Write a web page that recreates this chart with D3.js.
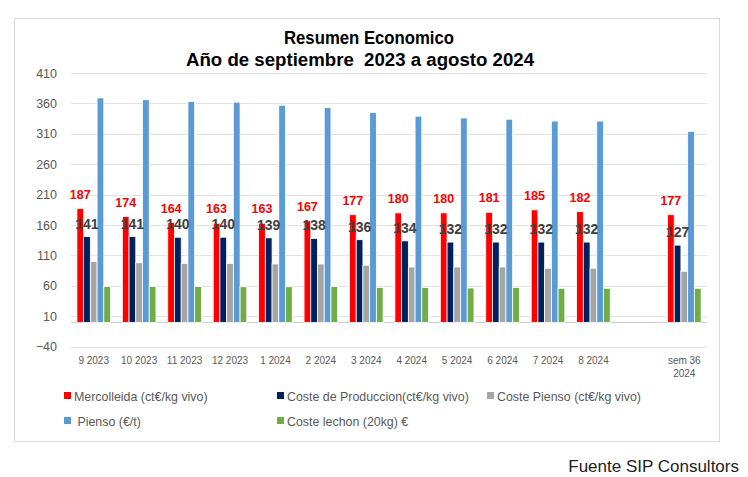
<!DOCTYPE html>
<html>
<head>
<meta charset="utf-8">
<script src="https://d3js.org/d3.v7.min.js"></script>
<style>
  body { margin: 0; background: #fff; }
  text { font-family: "Liberation Sans", Arial, sans-serif; }
</style>
</head>
<body>
<script>

// Datos del grafico
var meses = ["9 2023", "10 2023", "11 2023", "12 2023", "1 2024", "2 2024", "3 2024",
             "4 2024", "5 2024", "6 2024", "7 2024", "8 2024", "", "sem 36 2024"];
var mercolleida = [187, 174, 164, 163, 163, 167, 177, 180, 180, 181, 185, 182, null, 177];
var costeProduccion = [141, 141, 140, 140, 139, 138, 136, 134, 132, 132, 132, 132, null, 127];
var costePienso = [100, 98, 97, 97, 96, 96, 94, 91, 91, 91, 89, 89, null, 84];
var pienso = [369, 366, 363, 362, 357, 353, 345, 339, 336, 334, 331, 331, null, 314];
var costeLechon = [59, 59, 59, 58.5, 58.5, 59, 57.5, 57.5, 56.5, 57.5, 56, 56, null, 56];
var yTicks = [-40, 10, 60, 110, 160, 210, 260, 310, 360, 410];

var series = [
  { nombre: "Mercolleida (ct€/kg vivo)", valores: mercolleida, color: "#ff0000" },
  { nombre: "Coste de Produccion(ct€/kg vivo)", valores: costeProduccion, color: "#002060" },
  { nombre: "Coste Pienso (ct€/kg vivo)", valores: costePienso, color: "#a5a5a5" },
  { nombre: " Pienso (€/t)", valores: pienso, color: "#5b9bd5" },
  { nombre: "Coste lechon (20kg) €", valores: costeLechon, color: "#70ad47" }
];

var svg = d3.select("body").append("svg").attr("width", 748).attr("height", 477);

// Marco del grafico
svg.append("rect").attr("x", 14.5).attr("y", 18.5).attr("width", 705).attr("height", 423)
   .attr("fill", "#fff").attr("stroke", "#d9d9d9").attr("stroke-width", 1);

// Escalas
var x = d3.scaleBand().domain(d3.range(meses.length)).range([71, 707])
          .paddingInner(0.26).paddingOuter(0.13);
var xs = d3.scaleBand().domain(d3.range(series.length)).range([0, x.bandwidth()]);
var y = d3.scaleLinear().domain([-40, 410]).range([346.7, 73]);

// Rejilla
svg.selectAll("line.grid").data(yTicks).enter().append("line")
   .attr("class", "grid")
   .attr("x1", 71).attr("x2", 707)
   .attr("y1", function (d) { return Math.round(y(d)) + 0.5; })
   .attr("y2", function (d) { return Math.round(y(d)) + 0.5; })
   .attr("stroke", "#e3e3e3").attr("stroke-width", 1);

svg.append("line").attr("x1", 71).attr("x2", 707)
   .attr("y1", Math.round(y(0)) + 0.5).attr("y2", Math.round(y(0)) + 0.5)
   .attr("stroke", "#d0d0d0").attr("stroke-width", 1);

// Eje Y
var ejeY = svg.append("g").attr("transform", "translate(57,0)")
   .call(d3.axisLeft(y).tickValues(yTicks).tickSize(0).tickPadding(0));
ejeY.select(".domain").remove();
ejeY.selectAll("text").attr("fill", "#595959").attr("font-size", 12.5)
    .attr("font-family", "Liberation Sans, Arial, sans-serif");

// Barras
var grupos = svg.selectAll("g.serie").data(series).enter().append("g")
   .attr("class", "serie").attr("fill", function (d) { return d.color; });

grupos.each(function (s, si) {
  d3.select(this).selectAll("rect")
    .data(s.valores.map(function (v, i) { return { v: v, i: i }; }).filter(function (d) { return d.v !== null; }))
    .enter().append("rect")
    .attr("x", function (d) { return x(d.i) + xs(si); })
    .attr("width", xs.bandwidth())
    .attr("y", function (d) { return y(d.v); })
    .attr("height", function (d) { return y(0) - y(d.v); })
    .attr("stroke", "#fff").attr("stroke-width", 0.8);
});

// Etiquetas Mercolleida
svg.selectAll("text.lbl-m")
   .data(mercolleida.map(function (v, i) { return { v: v, i: i }; }).filter(function (d) { return d.v !== null; }))
   .enter().append("text")
   .attr("class", "lbl-m")
   .attr("x", function (d) { return x(d.i) + xs(0) + xs.bandwidth() / 2; })
   .attr("y", function (d) { return y(d.v) - 10; })
   .attr("text-anchor", "middle")
   .attr("fill", "#ff0000").attr("font-size", 12.5).attr("font-weight", "bold")
   .text(function (d) { return d.v; });

// Etiquetas coste de produccion
svg.selectAll("text.lbl-c")
   .data(costeProduccion.map(function (v, i) { return { v: v, i: i }; }).filter(function (d) { return d.v !== null; }))
   .enter().append("text")
   .attr("class", "lbl-c")
   .attr("x", function (d) { return x(d.i) + xs(1) + xs.bandwidth() / 2; })
   .attr("y", function (d) { return y(d.v) - 8; })
   .attr("text-anchor", "middle")
   .attr("fill", "#404040").attr("font-size", 14).attr("font-weight", "bold")
   .text(function (d) { return d.v; });

// Eje X
var etiquetas = svg.selectAll("text.mes").data(meses).enter().append("text")
   .attr("class", "mes")
   .attr("x", function (d, i) { return x(i) + x.bandwidth() / 2; })
   .attr("y", 364)
   .attr("text-anchor", "middle")
   .attr("fill", "#595959").attr("font-size", 10);
etiquetas.each(function (d) {
  var t = d3.select(this);
  if (d.indexOf("sem") === 0) {
    t.append("tspan").attr("x", t.attr("x")).text("sem 36");
    t.append("tspan").attr("x", t.attr("x")).attr("dy", 13).text("2024");
  } else {
    t.text(d);
  }
});

// Titulo
svg.append("text").attr("x", 369).attr("y", 44).attr("text-anchor", "middle")
   .attr("font-size", 18).attr("font-weight", "bold").attr("fill", "#000")
   .attr("textLength", 170).attr("lengthAdjust", "spacingAndGlyphs")
   .text("Resumen Economico");
svg.append("text").attr("x", 360).attr("y", 66).attr("text-anchor", "middle")
   .attr("font-size", 18).attr("font-weight", "bold").attr("fill", "#000")
   .attr("textLength", 348).attr("lengthAdjust", "spacingAndGlyphs")
   .style("white-space", "pre")
   .text("Año de septiembre  2023 a agosto 2024");

// Leyenda
var posLeyenda = [[64, 396], [277, 396], [487, 396], [64, 421], [277, 421]];
var leyenda = svg.selectAll("g.ley").data(series).enter().append("g")
   .attr("class", "ley")
   .attr("transform", function (d, i) { return "translate(" + posLeyenda[i][0] + "," + posLeyenda[i][1] + ")"; });
leyenda.append("rect").attr("x", 0).attr("y", -4).attr("width", 7).attr("height", 7)
   .attr("fill", function (d) { return d.color; });
leyenda.append("text").attr("x", 10).attr("y", 4.5)
   .attr("fill", "#595959").attr("font-size", 12.4)
   .style("white-space", "pre")
   .text(function (d) { return d.nombre; });

// Fuente
svg.append("text").attr("x", 739).attr("y", 472).attr("text-anchor", "end")
   .attr("font-size", 17).attr("fill", "#222")
   .text("Fuente SIP Consultors");

</script>
</body>
</html>
